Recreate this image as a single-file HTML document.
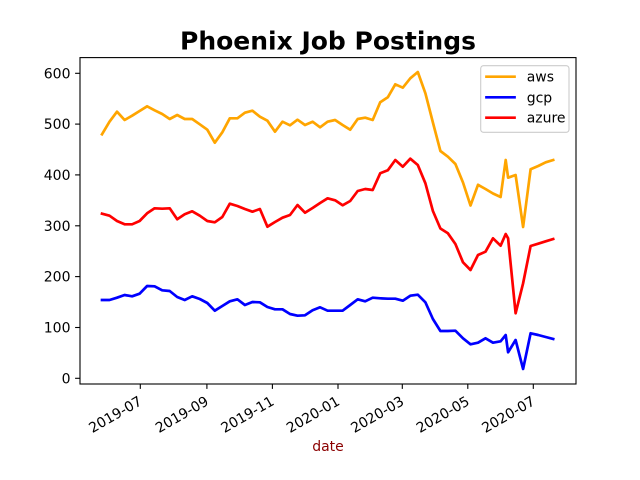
<!DOCTYPE html>
<html><head><meta charset="utf-8"><style>
html,body{margin:0;padding:0;background:#fff;}
svg{display:block;}
text{font-family:"DejaVu Sans","Liberation Sans",sans-serif;}
</style></head><body>
<svg width="640" height="480" viewBox="0 0 640 480" xmlns="http://www.w3.org/2000/svg">
<rect width="640" height="480" fill="#fff"/>
<defs><clipPath id="ax"><rect x="80" y="57.6" width="496" height="326.4"/></clipPath></defs>
<g clip-path="url(#ax)" fill="none" stroke-width="2.7" stroke-linejoin="round" stroke-linecap="square">
<polyline stroke="#ffa500" points="102,134.3 109.5,121.7 117,111.7 124.6,120 132.1,115.7 139.6,111 147.1,106.3 154.6,110.3 162.2,114 169.7,119 177.2,115 184.7,119 192.2,119 199.8,124.3 207.3,129.7 214.8,142.7 222.3,132.3 229.8,118.3 237.4,118.3 244.9,112.7 252.4,110.7 259.9,116.7 267.4,120.7 275,131.7 282.5,121.7 290,125.3 297.5,119.7 305,125 312.6,121.7 320.1,127.3 327.6,121.7 335.1,120 342.6,125 350.2,129.7 357.7,119 365.2,117.7 372.7,120 380.2,102.3 387.8,97.3 395.3,84.3 402.8,87.7 410.3,78.3 417.8,72 425.4,93.3 432.9,122.5 440.4,151 447.9,156.7 455.4,164 463,182.5 470.5,205.5 478,184.8 485.5,189 493,193.5 500.6,197 505.7,160 508.1,177.7 515.6,175 523.1,227 530.6,169.3 538.2,166 545.7,162.3 553.2,160"/>
<polyline stroke="#0000ff" points="102,300 109.5,300 117,297.7 124.6,295 132.1,296.3 139.6,293.7 147.1,286 154.6,286.3 162.2,290.3 169.7,291 177.2,297 184.7,300 192.2,296.3 199.8,299 207.3,303 214.8,310.7 222.3,306 229.8,301.3 237.4,299.3 244.9,305 252.4,302 259.9,302.3 267.4,307 275,309.3 282.5,309.3 290,314 297.5,315.7 305,315.3 312.6,310.3 320.1,307.3 327.6,310.7 335.1,310.7 342.6,310.7 350.2,305 357.7,299.3 365.2,301.3 372.7,297.7 380.2,298.3 387.8,298.7 395.3,298.7 402.8,300.7 410.3,295.7 417.8,294.7 425.4,302.3 432.9,319 440.4,331 447.9,331 455.4,330.7 463,338.3 470.5,344.3 478,342.7 485.5,338.3 493,342.7 500.6,341.3 505.7,335 508.1,352.3 515.6,340 523.1,369 530.6,333.3 538.2,335 545.7,337 553.2,339"/>
<polyline stroke="#ff0000" points="102,213.7 109.5,215.7 117,221 124.6,224.3 132.1,224.3 139.6,221 147.1,213.3 154.6,208.3 162.2,208.7 169.7,208.3 177.2,219.3 184.7,214.3 192.2,211.3 199.8,215.7 207.3,221 214.8,222.3 222.3,217 229.8,203.7 237.4,206 244.9,209 252.4,211.7 259.9,209 267.4,226.7 275,222 282.5,217.7 290,215 297.5,205 305,212.7 312.6,208 320.1,203 327.6,198.3 335.1,200.3 342.6,205.3 350.2,201 357.7,191 365.2,189 372.7,190 380.2,173.3 387.8,170.3 395.3,160 402.8,166.7 410.3,158.7 417.8,165 425.4,183.3 432.9,211 440.4,228.5 447.9,233.3 455.4,244 463,262.3 470.5,270 478,255 485.5,251.7 493,238.3 500.6,245.7 505.7,234 508.1,238.3 515.6,313.3 523.1,283.3 530.6,246 538.2,243.7 545.7,241.3 553.2,239"/>
</g>
<rect x="80" y="57.6" width="496" height="326.4" fill="none" stroke="#000" stroke-width="1.1"/>
<g stroke="#000" stroke-width="1.1">
<line x1="75.1" y1="378.3" x2="80" y2="378.3"/>
<line x1="75.1" y1="327.5" x2="80" y2="327.5"/>
<line x1="75.1" y1="276.6" x2="80" y2="276.6"/>
<line x1="75.1" y1="225.8" x2="80" y2="225.8"/>
<line x1="75.1" y1="174.9" x2="80" y2="174.9"/>
<line x1="75.1" y1="124.1" x2="80" y2="124.1"/>
<line x1="75.1" y1="73.3" x2="80" y2="73.3"/>
<line x1="140.3" y1="384" x2="140.3" y2="388.9"/>
<line x1="206.9" y1="384" x2="206.9" y2="388.9"/>
<line x1="272.4" y1="384" x2="272.4" y2="388.9"/>
<line x1="338" y1="384" x2="338" y2="388.9"/>
<line x1="402.3" y1="384" x2="402.3" y2="388.9"/>
<line x1="467.8" y1="384" x2="467.8" y2="388.9"/>
<line x1="533.3" y1="384" x2="533.3" y2="388.9"/>
</g>
<g font-size="14" fill="#000" text-anchor="end">
<text x="70.5" y="383.3">0</text>
<text x="70.5" y="332.5">100</text>
<text x="70.5" y="281.6">200</text>
<text x="70.5" y="230.8">300</text>
<text x="70.5" y="179.9">400</text>
<text x="70.5" y="129.1">500</text>
<text x="70.5" y="78.3">600</text>
</g>
<g font-size="14" fill="#000" text-anchor="end">
<text transform="translate(143,404) rotate(-30)">2019-07</text>
<text transform="translate(209.6,404) rotate(-30)">2019-09</text>
<text transform="translate(275.1,404) rotate(-30)">2019-11</text>
<text transform="translate(340.7,404) rotate(-30)">2020-01</text>
<text transform="translate(405,404) rotate(-30)">2020-03</text>
<text transform="translate(470.5,404) rotate(-30)">2020-05</text>
<text transform="translate(536,404) rotate(-30)">2020-07</text>
</g>
<text x="328" y="451" font-size="14" fill="#8b0000" text-anchor="middle">date</text>
<text x="328" y="49.3" font-size="25" font-weight="bold" fill="#000" text-anchor="middle">Phoenix Job Postings</text>
<rect x="480.7" y="65.7" width="88.3" height="66.6" rx="2.8" ry="2.8" fill="#fff" fill-opacity="0.8" stroke="#cccccc" stroke-width="1.1"/>
<g stroke-width="2.7" stroke-linecap="square">
<line x1="486.5" y1="76.7" x2="514.5" y2="76.7" stroke="#ffa500"/>
<line x1="486.5" y1="97.3" x2="514.5" y2="97.3" stroke="#0000ff"/>
<line x1="486.5" y1="117.7" x2="514.5" y2="117.7" stroke="#ff0000"/>
</g>
<g font-size="14" fill="#000">
<text x="526.7" y="81.7">aws</text>
<text x="526.7" y="102.3">gcp</text>
<text x="526.7" y="122.7">azure</text>
</g>
</svg>
</body></html>
